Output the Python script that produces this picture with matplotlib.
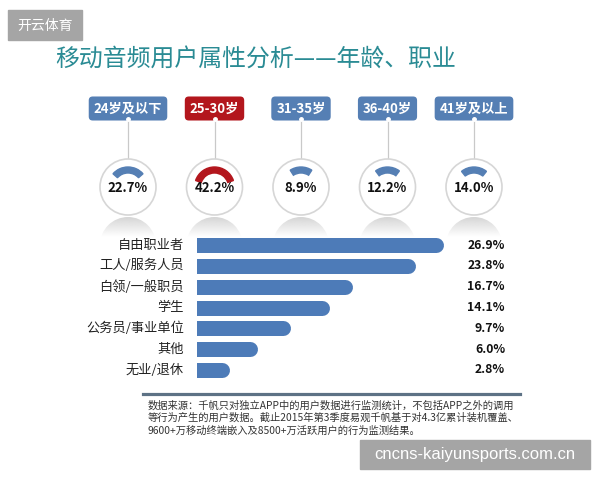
import numpy as np
import matplotlib
matplotlib.use('Agg')
import matplotlib.pyplot as plt
from matplotlib.patches import Circle, Wedge, Rectangle
from matplotlib import transforms

plt.rcParams['font.family'] = ['Noto Sans CJK SC', 'DejaVu Sans']

# data
title = '移动音频用户属性分析——年龄、职业'
age_groups = ['24岁及以下', '25-30岁', '31-35岁', '36-40岁', '41岁及以上']
age_share = [22.7, 42.2, 8.9, 12.2, 14.0]
highlight = 1
jobs = ['自由职业者', '工人/服务人员', '白领/一般职员', '学生', '公务员/事业单位', '其他', '无业/退休']
job_share = [26.9, 23.8, 16.7, 14.1, 9.7, 6.0, 2.8]
note = ('数据来源：千帆只对独立APP中的用户数据进行监测统计，不包括APP之外的调用\n'
        '等行为产生的用户数据。截止2015年第3季度易观千帆基于对4.3亿累计装机覆盖、\n'
        '9600+万移动终端嵌入及8500+万活跃用户的行为监测结果。')

blue = '#557fb4'
red = '#b3161d'
bar_color = '#4d7bb8'

fig = plt.figure(figsize=(6, 4.8), dpi=100)
bg = fig.add_axes([0, 0, 1, 1])
bg.axis('off')

# top-left watermark
bg.add_patch(Rectangle((8, 10), 74, 30, color='#a5a5a5'))
bg.text(45, 25.5, '开云体育', color='white', fontsize=10, ha='center', va='center')

bg.text(256, 60, title, color='#2a8b94', fontsize=17.2, ha='center', va='center')

# fading grey for the reflections under the circles
fade = np.zeros((60, 1, 4))
fade[..., :3] = 0.80
fade[:, 0, 3] = np.linspace(0.85, 0.0, 60)

# age groups: label box, connector, circle gauge
for i, (lab, v) in enumerate(zip(age_groups, age_share)):
    cx = 128 + 86.5 * i
    col = red if i == highlight else blue
    bg.plot([cx, cx], [118, 159], color='#c9c9c9', lw=0.9, zorder=1)
    bg.text(cx, 108.5, lab, color='white', fontsize=9.5, weight='bold', ha='center', va='center',
            bbox=dict(boxstyle='round,pad=0.38,rounding_size=0.3', fc=col, ec='none'), zorder=3)
    bg.plot(cx, 119, 'o', ms=2.5, color='white', zorder=4)
    # reflection under the circle
    dome = Wedge((cx, 245), 28, 180, 360, fc='none', ec='none')
    bg.add_patch(dome)
    im = bg.imshow(fade, extent=(cx - 28, cx + 28, 237, 216), aspect='auto',
                   interpolation='bilinear', zorder=1)
    im.set_clip_path(dome)
    bg.add_patch(Circle((cx, 187), 28, fc='white', ec='#d6d6d6', lw=1.2, zorder=2))
    span = 45 + 2.3 * v
    bg.add_patch(Wedge((cx, 187), 20, 270 - span / 2, 270 + span / 2, width=6, color=col, zorder=3))
    bg.text(cx, 188, f'{v:.1f}%', fontsize=9.5, weight='bold', ha='center', va='center',
            color='#111111', zorder=4)

bg.set_xlim(0, 600)
bg.set_ylim(480, 0)

# occupation bars
ax = fig.add_axes([197 / 600, 1 - 380.4 / 480, 266 / 600, 145.8 / 480])
ax.set_xlim(0, 30)
ax.set_ylim(6.5, -0.5)
ax.axis('off')
ax.patch.set_alpha(0)
tr = transforms.blended_transform_factory(fig.transFigure, ax.transData)
y = np.arange(len(jobs))
for yi, job, v in zip(y, jobs, job_share):
    ax.plot([-2, v], [yi, yi], color=bar_color, lw=10.8, solid_capstyle='round')
    ax.text(184 / 600, yi, job, transform=tr, ha='right', va='center', fontsize=9.5, color='#222222')
    ax.text(505 / 600, yi, f'{v:.1f}%', transform=tr, ha='right', va='center', fontsize=8.8,
            weight='bold', color='#111111')

# footnote
bg.plot([143, 520], [394, 394], color='#5d7285', lw=2.3)
bg.text(148, 400, note, fontsize=7.4, color='#333333', va='top', ha='left', linespacing=1.3)

# bottom-right watermark
bg.add_patch(Rectangle((360, 440), 230, 29, color='#a5a5a5'))
bg.text(475, 455, 'cncns-kaiyunsports.com.cn', color='white', fontsize=12, ha='center', va='center',
        family='Liberation Sans')

fig.savefig('out.png', dpi=100)
